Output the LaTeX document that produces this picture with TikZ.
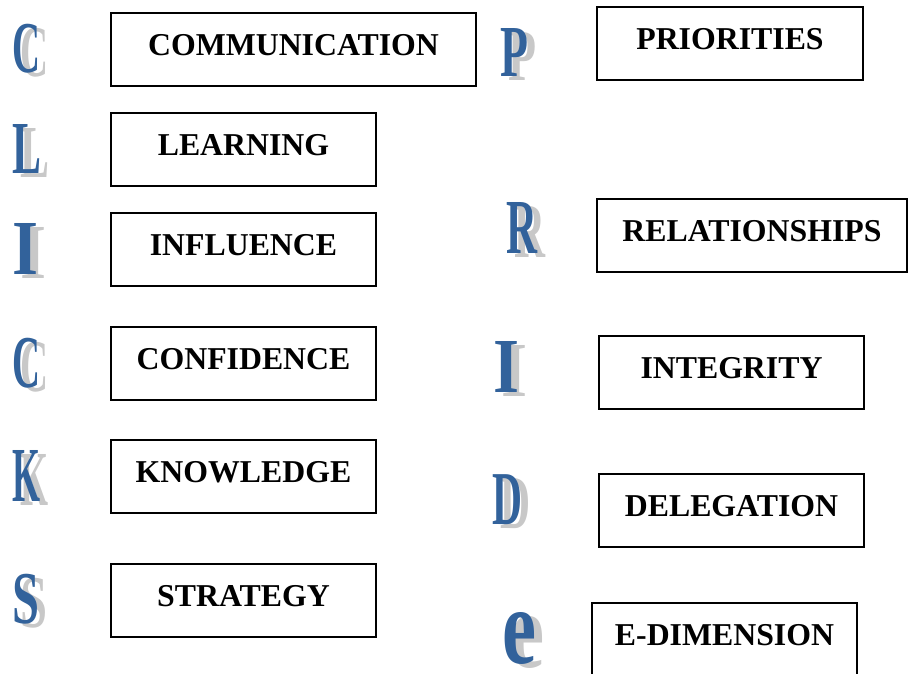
\documentclass[tikz,border=0pt]{standalone}
\usepackage{fontspec}
\setmainfont{Liberation Serif}
\usepackage{graphicx}
\definecolor{letterblue}{RGB}{50,98,155}
\definecolor{shadowgray}{RGB}{200,200,200}
\tikzset{
  box/.style={draw=black, line width=1.4pt, inner sep=0pt},
  lbl/.style={inner sep=0pt, font=\bfseries\fontsize{31.8}{32}\selectfont, anchor=base},
  bigletter/.style={inner sep=0pt, anchor=south west, text=letterblue, font=\bfseries},
  bigshadow/.style={inner sep=0pt, anchor=south west, text=shadowgray, font=\bfseries},
}
% name, char, x-left, y-bottom, width, height
\newcommand\capletter[6]{%
  \node[bigshadow] (#1s) at (#3+8,#4+4) {\resizebox*{#5pt}{#6pt}{#2}};
  \node[bigletter] (#1) at (#3,#4) {\resizebox*{#5pt}{#6pt}{#2}};}
% name, x1, y1, x2, y2, text
\newcommand\textbox[6]{%
  \node[box, minimum width=#4pt-#2pt, minimum height=#5pt-#3pt] (#1) at ({(#2+#4)/2},{(#3+#5)/2}) {};
  \node[lbl] (#1t) at ({(#2+#4)/2},#3+42) {#6};}
\begin{document}
\begin{tikzpicture}[x=1pt,y=-1pt]
\useasboundingbox (0,0) rectangle (908,673);
\clip (0,0) rectangle (908,673);
% left column letters
\capletter{lc1}{C}{12}{73}{28}{49}
\capletter{ll}{L}{12}{174}{29}{49}
\capletter{li}{I}{12}{275}{26}{51}
\capletter{lc2}{C}{12}{388}{28}{50}
\capletter{lk}{K}{12}{502}{28}{51}
\capletter{ls}{S}{12}{624}{27}{50}
% right column letters
\capletter{rp}{P}{500}{77}{28}{48}
\capletter{rr}{R}{506}{254}{31}{51}
\capletter{ri}{I}{493}{393}{26}{51}
\capletter{rd}{D}{492}{525}{30}{50}
\capletter{re}{e}{502}{665}{34}{52}
% left column boxes
\textbox{communication}{111}{13}{476}{86}{COMMUNICATION}
\textbox{learning}{111}{113}{376}{186}{LEARNING}
\textbox{influence}{111}{213}{376}{286}{INFLUENCE}
\textbox{confidence}{111}{327}{376}{400}{CONFIDENCE}
\textbox{knowledge}{111}{440}{376}{513}{KNOWLEDGE}
\textbox{strategy}{111}{564}{376}{637}{STRATEGY}
% right column boxes
\textbox{priorities}{597}{7}{863}{80}{PRIORITIES}
\textbox{relationships}{597}{199}{907}{272}{RELATIONSHIPS}
\textbox{integrity}{599}{336}{864}{409}{INTEGRITY}
\textbox{delegation}{599}{474}{864}{547}{DELEGATION}
\textbox{edimension}{592}{603}{857}{690}{E-DIMENSION}
\end{tikzpicture}
\end{document}
